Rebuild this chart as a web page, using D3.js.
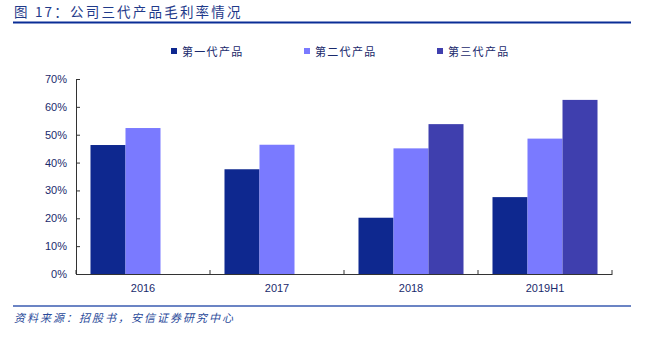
<!DOCTYPE html>
<html><head><meta charset="utf-8">
<script src="https://cdn.jsdelivr.net/npm/d3@7"></script>
<style>body{margin:0;background:#fff;}svg{display:block;}</style>
</head><body>
<svg id="c" width="646" height="337"></svg>
<script>
const categories = ["2016", "2017", "2018", "2019H1"];
const seriesNames = ["第一代产品", "第二代产品", "第三代产品"];
const gen1 = [0.463, 0.376, 0.202, 0.276];
const gen2 = [0.524, 0.464, 0.451, 0.486];
const gen3 = [null, null, 0.538, 0.625];
const yTicks = [0, 0.1, 0.2, 0.3, 0.4, 0.5, 0.6, 0.7];
const colors = ["#0e288f", "#7a7aff", "#3f3fae"];
const title = "图 17：公司三代产品毛利率情况";
const source = "资料来源：招股书，安信证券研究中心";

const series = [gen1, gen2, gen3];
const svg = d3.select("#c");
const navy = "#1a2a6c";
const cjk = "'Noto Sans CJK SC', sans-serif";

// title
svg.append("text").attr("x", 14).attr("y", 17).attr("fill", "#1f3a8a")
  .attr("font-family", cjk).attr("font-size", 13.5).attr("letter-spacing", 2.2).text(title);
svg.append("line").attr("x1", 13).attr("x2", 631).attr("y1", 22.5).attr("y2", 22.5)
  .attr("stroke", "#0a2d96").attr("stroke-width", 2);

const x = d3.scaleBand().domain(categories).range([76, 612]).paddingInner(0).paddingOuter(0);
const x1 = d3.scaleBand().domain([0,1,2]).range([0, x.bandwidth()]).paddingInner(0).paddingOuter(0.414);
const y = d3.scaleLinear().domain([0, 0.7]).range([274, 79]);

// bars
series.forEach((vals, si) => {
  svg.append("g").selectAll("rect")
    .data(categories.map((c, i) => ({c, v: vals[i]})).filter(d => d.v != null))
    .join("rect")
    .attr("x", d => x(d.c) + x1(si))
    .attr("width", x1.bandwidth())
    .attr("y", d => y(d.v))
    .attr("height", d => y(0) - y(d.v))
    .attr("fill", colors[si]);
});

// y axis
const yAxis = d3.axisLeft(y).tickValues(yTicks).tickFormat(d3.format(".0%")).tickSizeInner(-4).tickSizeOuter(0).tickPadding(9);
const gy = svg.append("g").attr("transform", "translate(76,0)").call(yAxis);
gy.select(".domain").attr("stroke", "#333");
gy.selectAll(".tick line").attr("stroke", "#333");
gy.selectAll("text").attr("font-family", "Arial, 'Liberation Sans', sans-serif").attr("font-size", 11).attr("fill", navy);

// x axis
const xAxis = d3.axisBottom(x).tickSize(0).tickPadding(10);
const gx = svg.append("g").attr("transform", "translate(0,274)").call(xAxis);
gx.select(".domain").attr("stroke", "#333");
gx.selectAll("text").attr("font-family", "Arial, 'Liberation Sans', sans-serif").attr("font-size", 11).attr("fill", navy);
// boundary ticks
svg.append("g").selectAll("line").data(categories.concat(["end"]))
  .join("line")
  .attr("x1", (d, i) => i < categories.length ? x(d) : x.range()[1])
  .attr("x2", (d, i) => i < categories.length ? x(d) : x.range()[1])
  .attr("y1", 274).attr("y2", 270).attr("stroke", "#333");

// legend
const legX = [171, 304, 437];
seriesNames.forEach((n, i) => {
  svg.append("rect").attr("x", legX[i]).attr("y", 48).attr("width", 6).attr("height", 6).attr("fill", colors[i]);
  svg.append("text").attr("x", legX[i] + 11).attr("y", 55.5).attr("font-family", cjk)
    .attr("font-size", 11).attr("letter-spacing", 1.3).attr("fill", navy).text(n);
});

// bottom
svg.append("line").attr("x1", 13).attr("x2", 631).attr("y1", 306).attr("y2", 306)
  .attr("stroke", "#3a5bb0").attr("stroke-width", 1.5);
svg.append("text").attr("x", 14).attr("y", 322).attr("font-family", cjk).attr("font-style", "italic")
  .attr("font-size", 11).attr("letter-spacing", 2).attr("fill", "#2a4a9a").text(source);
</script>
</body></html>
